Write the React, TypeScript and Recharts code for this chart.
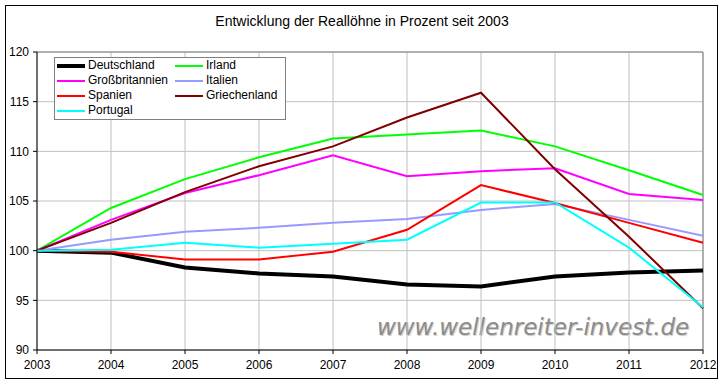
import { LineChart, Line, XAxis, YAxis, CartesianGrid, ReferenceLine } from 'recharts'

const years = [2003, 2004, 2005, 2006, 2007, 2008, 2009, 2010, 2011, 2012]

const deutschland = [100, 99.8, 98.3, 97.7, 97.4, 96.6, 96.4, 97.4, 97.8, 98.0]
const irland = [100, 104.3, 107.2, 109.4, 111.3, 111.7, 112.1, 110.5, 108.1, 105.6]
const grossbritannien = [100, 103.1, 105.8, 107.6, 109.6, 107.5, 108.0, 108.3, 105.7, 105.1]
const italien = [100, 101.1, 101.9, 102.3, 102.8, 103.2, 104.1, 104.7, 103.1, 101.5]
const spanien = [100, 99.9, 99.1, 99.1, 99.9, 102.1, 106.6, 104.8, 102.8, 100.8]
const griechenland = [100, 102.8, 105.9, 108.5, 110.5, 113.4, 115.9, 108.2, 101.4, 94.2]
const portugal = [100, 100.1, 100.8, 100.3, 100.7, 101.1, 104.85, 104.85, 100.3, 94.3]

const yTicks = [90, 95, 100, 105, 110, 115, 120]

const series = [
  { key: 'Deutschland', values: deutschland, color: '#000000', width: 4 },
  { key: 'Irland', values: irland, color: '#00ff00', width: 2 },
  { key: 'Großbritannien', values: grossbritannien, color: '#ff00ff', width: 2 },
  { key: 'Italien', values: italien, color: '#9999ff', width: 2 },
  { key: 'Spanien', values: spanien, color: '#ff0000', width: 2 },
  { key: 'Griechenland', values: griechenland, color: '#800000', width: 2 },
  { key: 'Portugal', values: portugal, color: '#00ffff', width: 2 },
]

const data = years.map((year, i) => {
  const row: any = { year }
  series.forEach((s) => {
    row[s.key] = s.values[i]
  })
  return row
})

const font = '"Liberation Sans", Arial, sans-serif'

const LegendBox = () => (
  <div
    style={{
      position: 'absolute',
      left: 54,
      top: 57,
      width: 232,
      height: 63,
      border: '1px solid #808080',
      background: '#fff',
      display: 'grid',
      gridTemplateColumns: '118px 112px',
      gridAutoRows: '15px',
      padding: '0 0 0 2px',
      boxSizing: 'border-box',
      fontFamily: font,
      fontSize: 12,
      color: '#000',
    }}
  >
    {series.map((s) => (
      <div key={s.key} style={{ display: 'flex', alignItems: 'center', lineHeight: '15px' }}>
        <span
          style={{
            display: 'inline-block',
            width: 28,
            height: s.width === 4 ? 4 : 2,
            background: s.color,
            marginRight: 3,
          }}
        />
        <span>{s.key}</span>
      </div>
    ))}
  </div>
)

export default function App() {
  return (
    <div style={{ position: 'absolute', left: 0, top: 0, width: 724, height: 386, background: '#fff' }}>
      <div
        style={{
          position: 'absolute',
          left: 5,
          top: 5,
          width: 711,
          height: 372,
          border: '1px solid #000',
        }}
      />
      <div
        style={{
          position: 'absolute',
          left: 0,
          top: 13,
          width: 724,
          textAlign: 'center',
          fontFamily: font,
          fontSize: 14,
          color: '#000',
        }}
      >
        Entwicklung der Reallöhne in Prozent seit 2003
      </div>
      <div
        style={{
          position: 'absolute',
          left: 377,
          top: 314,
          fontFamily: '"DejaVu Sans", Verdana, sans-serif',
          fontStyle: 'italic',
          fontSize: 23,
          color: '#8c8c8c',
          textShadow: '1px 1px 1px #c8c8c8',
          whiteSpace: 'nowrap',
        }}
      >
        www.wellenreiter-invest.de
      </div>
      <div style={{ position: 'absolute', left: 0, top: 0 }}>
        <LineChart
          width={724}
          height={386}
          data={data}
          margin={{ top: 52, right: 21, bottom: 0, left: 0 }}
        >
          <CartesianGrid stroke="#c0c0c0" strokeWidth={1} />
          <XAxis
            dataKey="year"
            type="number"
            domain={[2003, 2012]}
            ticks={years}
            height={36}
            stroke="#000"
            tickSize={4}
            tickMargin={6}
            tick={{ fill: '#000', fontSize: 12, fontFamily: font }}
          />
          <YAxis
            type="number"
            domain={[90, 120]}
            ticks={yTicks}
            width={37}
            stroke="#000"
            tickSize={4}
            tickMargin={4}
            tick={{ fill: '#000', fontSize: 12, fontFamily: font }}
          />
          <ReferenceLine y={120} stroke="#808080" />
          <ReferenceLine x={2012} stroke="#808080" />
          {series.map((s) => (
            <Line
              key={s.key}
              type="linear"
              dataKey={s.key}
              stroke={s.color}
              strokeWidth={s.width}
              dot={false}
              isAnimationActive={false}
            />
          ))}
        </LineChart>
      </div>
      <LegendBox />
    </div>
  )
}
